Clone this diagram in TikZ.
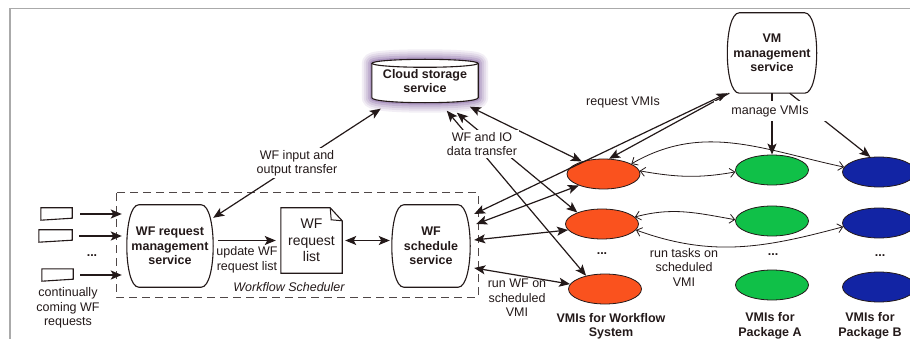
\documentclass[tikz,border=0pt]{standalone}
\usepackage{fontspec}
\setmainfont{Liberation Sans}
\usetikzlibrary{arrows.meta,shapes.geometric,calc,backgrounds}
\definecolor{ln}{RGB}{35,25,25}
\definecolor{orangevm}{RGB}{250,82,30}
\definecolor{greenvm}{RGB}{16,192,72}
\definecolor{bluevm}{RGB}{18,36,164}
\definecolor{glowcol}{RGB}{85,40,125}
\definecolor{framecol}{RGB}{170,170,170}
\newcommand\bulgeshape[1]{%
  \draw[ln, line width=1.1pt, fill=white] ($(#1.north west)+(12,0)$) -- ($(#1.north east)+(-12,0)$)
    .. controls ($(#1.north east)+(4,0)$) and ($(#1.south east)+(4,0)$) .. ($(#1.south east)+(-12,0)$)
    -- ($(#1.south west)+(12,0)$)
    .. controls ($(#1.south west)+(-4,0)$) and ($(#1.north west)+(-4,0)$) .. cycle;}
\newcommand\inshape[1]{%
  \draw[ln, line width=1.1pt] (#1.north west) -- (#1.north east) -- ($(#1.south east)+(0,-2)$) -- (#1.south west) -- cycle;}
\begin{document}
\begin{tikzpicture}[x=1pt,y=-1pt,
  font=\fontsize{12.5}{14.5}\selectfont,
  bold/.style={font=\fontsize{12.5}{14.5}\selectfont\bfseries},
  arr/.style={draw=ln, line width=1.2pt, -{Stealth[length=11pt,width=9pt,inset=2.5pt]}},
  darr/.style={draw=ln, line width=1.2pt, {Stealth[length=11pt,width=9pt,inset=2.5pt]}-{Stealth[length=11pt,width=9pt,inset=2.5pt]}},
  thinarr/.style={draw=ln, line width=0.8pt, {Straight Barb[length=5pt,width=9pt]}-{Straight Barb[length=5pt,width=9pt]}},
  vmi/.style={ellipse, draw=ln, line width=0.8pt, minimum width=73pt, minimum height=30pt, inner sep=0pt},
  box/.style={draw=none, inner sep=0pt, align=center, text=ln},
]
\useasboundingbox (0,0) rectangle (910,339);
\draw[framecol, line width=1.6pt] (910,8.5) -- (10,8.5) -- (10,339);

% main nodes
\node[box, bold, minimum width=86pt, minimum height=82pt] (wfm) at (170,246) {WF request\\management\\service};
\node[box, bold, minimum width=78pt, minimum height=82pt] (wfs) at (431,246) {WF\\schedule\\service};
\node[box, bold, minimum width=89pt, minimum height=80pt] (vm) at (772,53) {VM\\management\\service};
\node[box, bold, minimum width=106pt, minimum height=43pt] (cloud) at (425,81) {Cloud storage\\service};
\node[box, font=\fontsize{14}{16.7}\selectfont, minimum width=61pt, minimum height=65pt] (wrl) at (311.5,240.5) {WF\\request\\list};

\begin{pgfonlayer}{background}
  \bulgeshape{wfm}
  \bulgeshape{wfs}
  \bulgeshape{vm}
  % cloud glow
  \foreach \w/\o in {20/0.08,16/0.09,12/0.11,8/0.14,4/0.2} {
    \draw[glowcol, line width=\w pt, opacity=\o, line join=round, shift={(2,3)}]
      ($(cloud.north west)+(0,4)$) -- ($(cloud.south west)+(0,-5)$)
      .. controls ($(cloud.south west)+(0,1.67)$) and ($(cloud.south east)+(0,1.67)$) .. ($(cloud.south east)+(0,-5)$)
      -- ($(cloud.north east)+(0,4)$)
      .. controls ($(cloud.north east)+(0,-1.33)$) and ($(cloud.north west)+(0,-1.33)$) .. cycle;
  }
  \draw[ln, line width=1.1pt, fill=white]
      ($(cloud.north west)+(0,4)$) -- ($(cloud.south west)+(0,-5)$)
      .. controls ($(cloud.south west)+(0,1.67)$) and ($(cloud.south east)+(0,1.67)$) .. ($(cloud.south east)+(0,-5)$)
      -- ($(cloud.north east)+(0,4)$);
  \draw[ln, line width=1.1pt, fill=white] ($(cloud.north)+(0,4)$) ellipse[x radius=53, y radius=4];
  % document
  \draw[ln, line width=1.1pt, fill=white] (wrl.north west) -- ($(wrl.north east)+(-12,0)$) -- ($(wrl.north east)+(0,13)$) -- (wrl.south east) -- (wrl.south west) -- cycle;
  \draw[ln, line width=1pt] ($(wrl.north east)+(-12,0)$) -- ($(wrl.north east)+(-11,12)$) -- ($(wrl.north east)+(0,13)$);
\end{pgfonlayer}

% dashed scheduler box
\draw[ln!80, line width=1pt, dash pattern=on 8pt off 5pt] (116,193) rectangle (478,297);
\node[box, font=\fontsize{12.5}{14.5}\selectfont\itshape] (wsl) at (289,287) {Workflow Scheduler};

% inputs
\node[box, minimum width=31pt, minimum height=12pt] (in1) at (56.5,214) {};
\node[box, minimum width=33pt, minimum height=12pt] (in2) at (55.5,236) {};
\node[box, minimum width=31pt, minimum height=12pt] (in3) at (57.5,275) {};
\inshape{in1}\inshape{in2}\inshape{in3}
\node[box, font=\fontsize{12.5}{14.5}\selectfont\bfseries] (dots0) at (92,256) {...};
\node[box] (cont) at (68,308) {continually\\coming WF\\requests};
\draw[arr, shorten <=8pt, shorten >=5pt] (in1.east) -- (in1.east -| wfm.west);
\draw[arr, shorten <=7pt, shorten >=5pt] (in2.east) -- (in2.east -| wfm.west);
\draw[arr, shorten <=7pt, shorten >=5pt] (in3.east) -- (in3.east -| wfm.west);

% VMI ellipses
\node[vmi, fill=orangevm] (o1) at (603.5,174) {};
\node[vmi, fill=orangevm] (o2) at (602,224) {};
\node[vmi, fill=orangevm] (o3) at (605,289) {};
\node[vmi, fill=greenvm] (g1) at (772,170) {};
\node[vmi, fill=greenvm] (g2) at (772,221) {};
\node[vmi, fill=greenvm] (g3) at (772,285) {};
\node[vmi, fill=bluevm] (b1) at (879,172) {};
\node[vmi, fill=bluevm] (b2) at (879,223) {};
\node[vmi, fill=bluevm] (b3) at (879,287) {};
\node[box, bold] (dots1) at (602,254) {...};
\node[box, bold] (dots2) at (773,255) {...};
\node[box, bold] (dots3) at (880,256) {...};
\node[box, bold] (lab1) at (611,326.5) {VMIs for Workflow\\System};
\node[box, bold] (lab2) at (770,326) {VMIs for\\Package A};
\node[box, bold] (lab3) at (870,326) {VMIs for\\Package B};

% internal scheduler arrows
\draw[arr, shorten <=5pt, shorten >=5pt] (wfm.east |- wrl.west) -- (wrl.west);
\node[box] (upd) at (247,260) {update WF\\request list};
\draw[darr, shorten <=3pt, shorten >=2pt] (wrl.east) -- (wfs.west |- wrl.east);

% cloud transfers
\draw[darr] ($(cloud.south west)+(9,6)$) -- ($(wfm.north east)+(0,13)$)
  node[box, fill=white, midway, inner sep=2pt] (lwf) {WF input and\\output transfer};
\draw[darr] ($(cloud.south west)+(75,8)$) -- (o3.145);
\draw[darr] ($(cloud.south west)+(85,10)$) -- (o2.155);
\draw[darr] ($(cloud.south west)+(98,4)$) -- (o1.150);
\node[box, fill=white, inner sep=2pt] (lio) at (482,144) {WF and IO\\data transfer};

% schedule service connections
\draw[darr] ($(wfs.east)+(4,-32)$) -- (vm.west |- vm.228);
\draw[darr] ($(wfs.east)+(6,-22)$) -- (o1.205);
\draw[darr] ($(wfs.east)+(4,-6)$) -- (o2.190);
\draw[darr] ($(wfs.east)+(4,22)$) -- (o3.172);
\node[box] (lrv) at (623,102) {request VMIs};
\node[box] (lrw) at (517,298) {run WF on\\scheduled\\VMI};

% manage VMIs
\draw[arr] ($(vm.south west)+(2,0)$) -- (o1.70);
\draw[arr] (vm.south) -- (g1.north);
\draw[arr] ($(vm.south east)+(-27,0)$) -- (b1.120);
\node[box, fill=white, inner xsep=17pt, inner ysep=4pt] (lmv) at (770,111) {manage VMIs};

% VMI to VMI
\draw[thinarr] (o1.5) to[out=-10,in=190] (g1.183);
\draw[thinarr] (o1.20) to[out=30,in=168] (b1.172);
\draw[thinarr] (o2.12) to[out=15,in=170] (g2.178);
\draw[thinarr] (o2.-10) to[out=-20,in=195] (b2.186);
\node[box] (lrt) at (684,267) {run tasks on\\scheduled\\VMI};
\end{tikzpicture}
\end{document}
